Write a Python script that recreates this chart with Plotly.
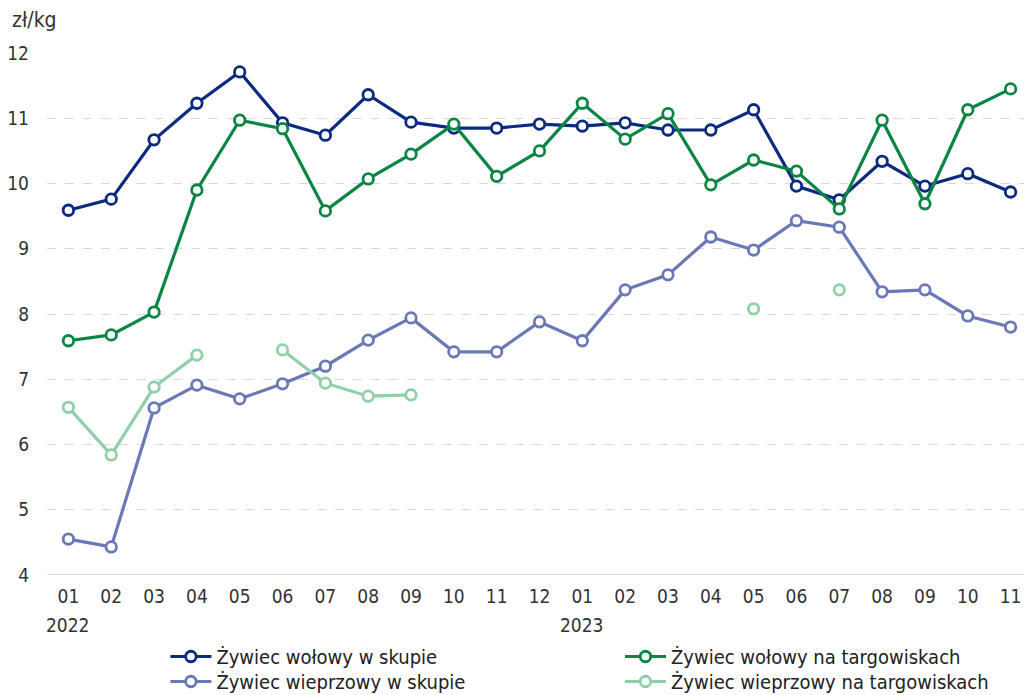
import plotly.graph_objects as go

months = ["01", "02", "03", "04", "05", "06", "07", "08", "09", "10", "11", "12",
          "01", "02", "03", "04", "05", "06", "07", "08", "09", "10", "11"]
years = ["2022", "", "", "", "", "", "", "", "", "", "", "",
         "2023", "", "", "", "", "", "", "", "", "", ""]

wolowy_skup = [9.59, 9.76, 10.67, 11.23, 11.71, 10.93, 10.74, 11.36, 10.94, 10.85, 10.85, 10.91,
               10.88, 10.93, 10.82, 10.82, 11.13, 9.96, 9.75, 10.34, 9.96, 10.15, 9.87]
wolowy_targ = [7.59, 7.68, 8.03, 9.90, 10.97, 10.84, 9.58, 10.07, 10.45, 10.91, 10.11, 10.50,
               11.23, 10.68, 11.07, 9.98, 10.36, 10.19, 9.61, 10.97, 9.69, 11.13, 11.45]
wieprz_skup = [4.55, 4.43, 6.56, 6.91, 6.70, 6.93, 7.20, 7.60, 7.94, 7.42, 7.42, 7.88,
               7.59, 8.37, 8.60, 9.18, 8.98, 9.43, 9.33, 8.34, 8.37, 7.97, 7.80]
wieprz_targ = [6.57, 5.84, 6.88, 7.37, None, 7.45, 6.94, 6.74, 6.76, None, None, None,
               None, None, None, None, 8.08, None, 8.37, None, None, None, None]

names = ["Żywiec wołowy w skupie", "Żywiec wołowy na targowiskach",
         "Żywiec wieprzowy w skupie", "Żywiec wieprzowy na targowiskach"]
colors = ["#0b2a80", "#0b8543", "#6a78b6", "#90d0a9"]
series = [wolowy_skup, wolowy_targ, wieprz_skup, wieprz_targ]
legend_ids = ["legend", "legend2", "legend3", "legend4"]
legend_pos = [(0.1202, -0.1188), (0.5817, -0.1188), (0.1202, -0.1667), (0.5817, -0.1667)]

x = list(range(len(months)))

FONT = "DejaVu Sans Condensed, Open Sans, sans-serif"

fig = go.Figure()
for name, col, vals, lg in zip(names, colors, series, legend_ids):
    fig.add_trace(go.Scatter(
        x=x, y=vals, name=name, mode="lines+markers",
        line=dict(color=col, width=3.2),
        marker=dict(symbol="circle", size=10.5, color="white",
                    line=dict(color=col, width=2.8)),
        connectgaps=False, legend=lg,
    ))

legend_common = dict(orientation="v", yanchor="top", xanchor="left",
                     tracegroupgap=0, bgcolor="rgba(0,0,0,0)", itemwidth=41,
                     font=dict(family=FONT, size=20, color="#222222"))
legends = {}
for lg, (lx, ly) in zip(legend_ids, legend_pos):
    legends[lg] = dict(x=lx, y=ly, **legend_common)

annotations = [dict(text="zł/kg", xref="paper", yref="paper", x=-0.038, y=1.036,
                    xanchor="left", yanchor="bottom", showarrow=False,
                    font=dict(family=FONT, size=21, color="#333333"))]
for i, yr in enumerate(years):
    if yr:
        annotations.append(dict(text=yr, xref="x", yref="paper", x=i, y=-0.096,
                                xanchor="center", yanchor="middle", showarrow=False,
                                font=dict(family=FONT, size=19, color="#333333")))

fig.update_layout(
    width=1024, height=687,
    margin=dict(l=38.5, r=0, t=45, b=120, autoexpand=False),
    paper_bgcolor="white", plot_bgcolor="white",
    font=dict(family=FONT, size=19, color="#333333"),
    showlegend=True,
    xaxis=dict(range=[-0.5, len(months) - 0.5], tickmode="array", tickvals=x,
               ticktext=months, showgrid=False, zeroline=False, showline=False,
               ticks="", tickfont=dict(size=19), ticklabelstandoff=8),
    yaxis=dict(range=[4, 12], dtick=1, showgrid=True, gridcolor="#d9d9d9",
               griddash="dash", gridwidth=1, zeroline=False, showline=False,
               ticks="", tickfont=dict(size=19), ticklabelstandoff=17),
    annotations=annotations,
    shapes=[dict(type="line", xref="paper", yref="y", x0=0, x1=1, y0=4, y1=4,
                 line=dict(color="#d0d0d0", width=1.5))],
    **legends,
)

fig.write_html("out.html")
